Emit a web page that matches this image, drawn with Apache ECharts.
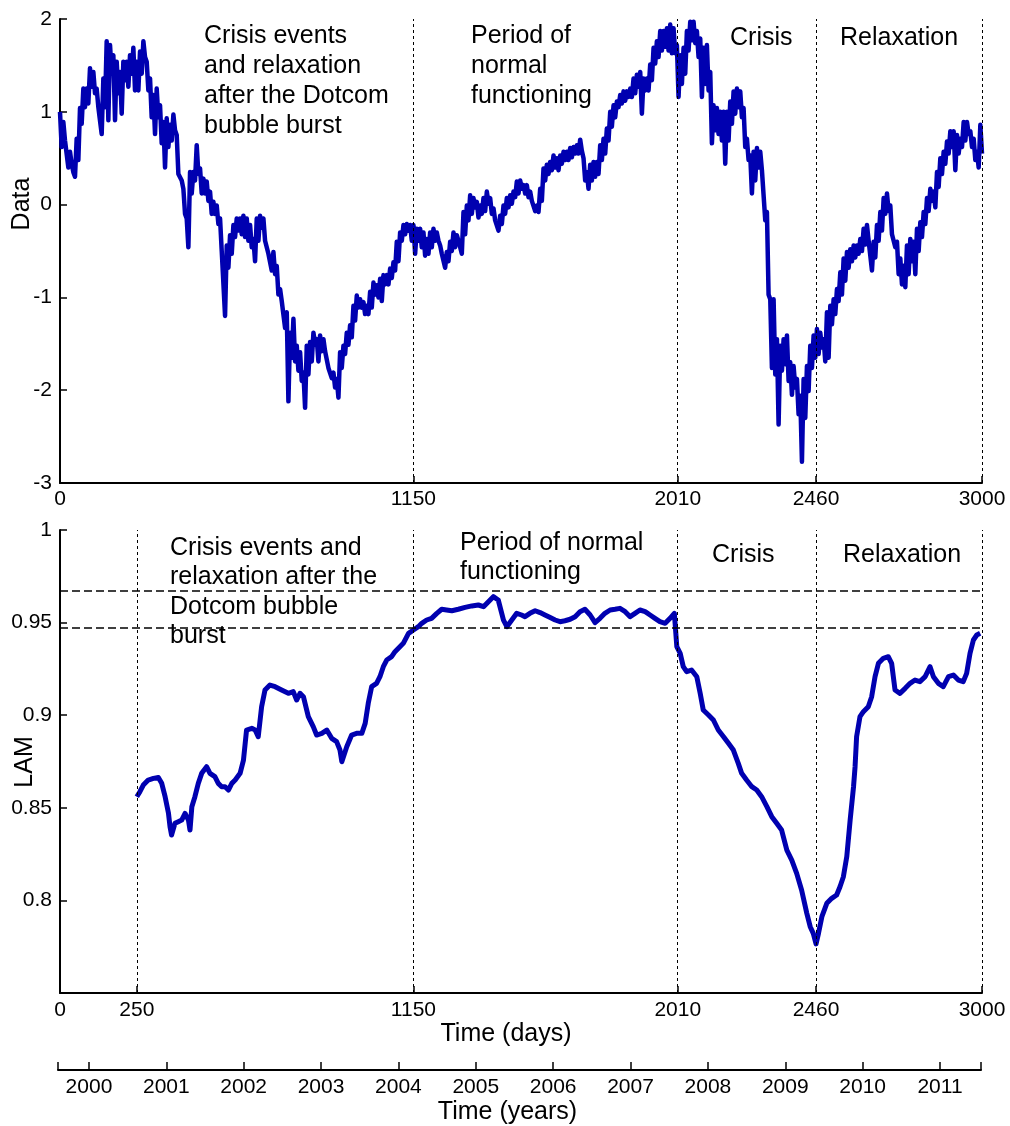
<!DOCTYPE html>
<html>
<head>
<meta charset="utf-8">
<script src="https://cdn.jsdelivr.net/npm/echarts@6/dist/echarts.min.js"></script>
<style>
html,body{margin:0;padding:0;background:#fff;}
#chart{width:1010px;height:1126px;}
</style>
</head>
<body>
<div id="chart"></div>
<script>
// ---------------- DATA ----------------
// Top panel: normalised index ("Data"), sampled every TOP_STEP days; per sample the upper and lower excursion
const TOP_STEP = 10.85;
const topHigh = [
1.00,0.89,0.71,0.57,0.35,0.71,1.04,1.25,1.25,1.47,1.43,1.25,1.07,1.36,1.76,1.72,1.61,1.54,1.43,1.54,
1.54,1.61,1.69,1.54,1.65,1.76,1.54,1.36,1.18,1.25,1.07,0.89,0.93,0.86,0.97,0.75,0.35,0.17,-0.15,0.35,
0.35,0.64,0.39,0.28,0.25,0.14,0.03,-0.01,-0.15,-0.51,-0.44,-0.33,-0.22,-0.15,-0.15,-0.12,-0.15,-0.22,-0.37,-0.15,
-0.12,-0.15,-0.37,-0.51,-0.51,-0.66,-0.91,-1.02,-1.16,-1.38,-1.23,-1.52,-1.59,-1.81,-1.52,-1.48,-1.38,-1.45,-1.41,-1.45,
-1.59,-1.74,-1.81,-1.88,-1.59,-1.52,-1.38,-1.30,-1.09,-0.98,-1.02,-1.05,-1.09,-0.94,-0.84,
-0.87,-0.80,-0.76,-0.76,-0.69,-0.62,-0.40,-0.30,-0.22,-0.21,-0.22,-0.22,-0.26,-0.26,-0.30,-0.37,-0.30,-0.26,-0.30,-0.44,
-0.51,-0.51,-0.40,-0.30,-0.33,-0.40,-0.08,-0.01,0.10,0.07,0.03,-0.01,0.07,0.14,0.07,-0.04,-0.15,-0.12,-0.01,0.07,
0.10,0.14,0.25,0.26,0.21,0.21,0.14,0.03,-0.01,0.17,0.39,0.43,0.46,0.53,0.50,0.53,0.57,0.57,0.61,0.62,
0.64,0.70,0.50,0.35,0.43,0.46,0.46,0.64,0.71,0.82,1.00,1.07,1.11,1.18,1.22,1.22,1.25,1.36,1.40,1.43,
1.36,1.36,1.51,1.69,1.76,1.87,1.87,1.90,1.94,1.90,1.72,
1.61,1.69,1.87,1.97,1.97,1.87,1.79,1.69,1.72,1.43,1.07,1.04,1.00,1.00,1.00,1.11,1.22,1.25,1.22,1.04,
0.71,0.53,0.57,0.61,0.57,0.39,-0.08,-1.02,-1.02,-1.45,-1.52,-1.45,-1.41,-1.70,-1.74,-1.88,-2.06,-1.88,-1.74,-1.52,
-1.41,-1.34,-1.38,-1.45,-1.16,-1.09,-1.02,-0.91,-0.73,-0.58,-0.51,-0.48,-0.44,-0.44,-0.37,-0.26,-0.22,-0.40,-0.40,-0.22,
-0.08,0.07,0.12,-0.01,-0.30,-0.40,-0.58,-0.66,-0.44,-0.37,-0.40,-0.26,-0.19,-0.08,0.07,0.17,0.14,0.35,0.50,0.57,
0.68,0.79,0.79,0.75,0.71,0.89,0.89,0.79,0.71,0.57,0.86
];
const topLow = [
0.62,0.69,0.40,0.44,0.30,0.48,0.87,1.05,1.09,1.27,1.20,1.05,0.76,1.05,0.91,1.41,0.91,1.20,0.98,1.34,
1.27,1.41,1.23,1.23,1.41,1.59,1.23,0.94,0.76,0.94,0.66,0.40,0.62,0.69,0.80,0.33,0.26,-0.10,-0.46,0.12,
0.26,0.33,0.12,0.12,0.04,-0.10,-0.10,-0.21,-0.50,-1.20,-0.68,-0.53,-0.35,-0.28,-0.32,-0.35,-0.39,-0.46,-0.61,-0.39,
-0.25,-0.39,-0.53,-0.71,-0.75,-0.97,-1.04,-1.33,-2.12,-1.65,-1.69,-1.79,-1.90,-2.19,-1.83,-1.69,-1.51,-1.69,-1.58,-1.58,
-1.76,-1.87,-1.97,-2.08,-1.76,-1.61,-1.51,-1.43,-1.25,-1.11,-1.11,-1.18,-1.18,-1.11,-0.97,
-1.00,-1.04,-0.86,-0.86,-0.79,-0.71,-0.61,-0.39,-0.32,-0.28,-0.39,-0.53,-0.39,-0.46,-0.55,-0.53,-0.46,-0.39,-0.39,-0.53,
-0.68,-0.61,-0.50,-0.46,-0.39,-0.53,-0.32,-0.17,-0.10,-0.03,-0.14,-0.10,-0.07,0.01,-0.10,-0.17,-0.28,-0.21,-0.10,-0.03,
0.01,0.08,0.12,0.17,0.12,0.08,0.04,-0.07,-0.08,0.04,0.26,0.33,0.37,0.40,0.37,0.44,0.48,0.48,0.51,0.55,
0.55,0.58,0.26,0.17,0.26,0.30,0.33,0.48,0.55,0.69,0.84,0.94,1.05,1.09,1.12,1.16,1.16,1.20,1.27,0.98,
1.23,1.23,1.34,1.52,1.59,1.66,1.70,1.66,1.63,1.63,1.16,
1.30,1.41,1.66,1.77,1.74,1.59,1.16,1.30,1.23,0.66,0.80,0.76,0.69,0.44,0.69,0.87,0.98,1.05,0.94,0.62,
0.48,0.12,0.26,0.40,0.37,-0.17,-0.97,-1.76,-1.83,-2.37,-1.79,-1.72,-1.90,-2.05,-1.97,-2.26,-2.77,-2.30,-2.01,-1.76,
-1.65,-1.61,-1.54,-1.69,-1.65,-1.29,-1.18,-1.04,-0.97,-0.82,-0.68,-0.61,-0.57,-0.53,-0.50,-0.43,-0.39,-0.71,-0.57,-0.39,
-0.28,-0.10,-0.07,-0.32,-0.46,-0.75,-0.86,-0.89,-0.75,-0.61,-0.75,-0.50,-0.35,-0.21,-0.07,0.04,-0.03,0.19,0.33,0.44,
0.55,0.62,0.37,0.55,0.62,0.69,0.76,0.62,0.48,0.40,0.55
];

// Bottom panel: LAM (laminarity) by day
const lamDays = [
250,260,271,287,304,320,331,342,353,358,363,374,385,396,407,418,423,429,439,450,
461,477,488,504,515,526,537,548,559,570,586,597,607,624,635,645,656,667,683,700,
721,743,759,770,781,792,808,824,835,852,868,884,900,911,917,933,949,965,982,993,
1003,1014,1030,1041,1052,1063,1079,1090,1106,1117,1134,1150,1166,1177,1193,1209,1226,1242,1258,1275,
1296,1318,1340,1361,1378,1394,1410,1426,1443,1454,1470,1486,1502,1513,
1529,1546,1562,1578,1595,1611,1627,1643,1660,1676,1692,1708,1725,1741,1757,1773,1790,1806,1822,1839,
1855,1871,1887,1904,1920,1936,1952,1969,1985,1999,2007,2018,2028,2039,2055,2072,2083,2093,2110,2126,
2142,2159,2175,2191,2207,2218,2234,2251,2267,2283,2300,2316,2332,2348,2365,2381,2397,2413,2430,2441,
2451,2460,2468,2479,2495,2511,2527,2538,2549,2560,2571,2582,2587,2592,2603,2614,2630,2641,2652,2663,
2679,2695,2706,2717,2733,2750,2766,2782,2798,2815,2831,2842,2858,2874,2891,2907,2923,2939,2950,2961,
2972,2983,2994
];
const lamValues = [
0.856,0.8587,0.8623,0.865,0.8659,0.8664,0.8632,0.856,0.847,0.8398,0.8353,0.8416,0.8425,0.8434,0.847,0.8434,0.838,0.8506,0.856,0.8632,
0.8686,0.8722,0.8686,0.8668,0.8632,0.8614,0.8614,0.8596,0.8632,0.865,0.8686,0.8758,0.892,0.8929,0.892,0.8884,0.9046,0.9136,0.9163,0.9154,
0.9136,0.9118,0.9127,0.9082,0.9118,0.91,0.8992,0.8938,0.8893,0.8902,0.892,0.8875,0.8857,0.8812,0.8749,0.883,0.8893,0.8902,0.8902,0.8956,
0.9064,0.9154,0.9172,0.9208,0.9262,0.9298,0.9316,0.9343,0.937,0.9388,0.9442,0.946,0.9478,0.9496,0.9514,0.9523,0.955,0.9572,0.9568,0.9564,
0.9572,0.9582,0.959,0.9595,0.9586,0.9613,0.964,0.9622,0.9514,0.9478,0.9514,0.955,0.9541,0.9532,
0.955,0.9564,0.9554,0.9541,0.9527,0.9514,0.9505,0.951,0.9518,0.9532,0.9559,0.9572,0.9541,0.95,0.9523,0.955,0.9568,0.9572,0.9577,0.9559,
0.9532,0.955,0.9568,0.9559,0.9541,0.9523,0.9505,0.9496,0.9523,0.955,0.937,0.9334,0.9262,0.9235,0.9244,0.9208,0.9118,0.9028,0.9001,0.8974,
0.892,0.8884,0.8848,0.8812,0.874,0.8686,0.865,0.8614,0.8596,0.856,0.8506,0.8452,0.8416,0.838,0.8272,0.8218,0.8146,0.8056,0.793,0.7858,
0.7822,0.7765,0.7822,0.7912,0.7984,0.8011,0.8029,0.8074,0.8128,0.8236,0.8434,0.8614,0.8722,0.8884,0.8992,0.9019,0.9046,0.91,0.9208,0.928,
0.9307,0.9316,0.928,0.9136,0.9118,0.9145,0.9172,0.919,0.9181,0.9208,0.9262,0.9208,0.9172,0.9154,0.9208,0.9217,0.919,0.9181,0.9226,0.9334,
0.9406,0.9433,0.9442
];

// Tick labels and reference marks
const topDayTicks = [0, 1150, 2010, 2460, 3000];
const bottomDayTicks = [0, 250, 1150, 2010, 2460, 3000];
const topPhaseBounds = [1150, 2010, 2460, 3000];
const bottomPhaseBounds = [250, 1150, 2010, 2460, 3000];
const lamLevels = [0.967, 0.947];
const yearTicks = [2000, 2001, 2002, 2003, 2004, 2005, 2006, 2007, 2008, 2009, 2010, 2011];
const yearRange = [1999.6, 2011.53];

// ---------------- BUILD ----------------
const topSeriesData = [];
for (let i = 0; i < topHigh.length; i++) {
  const d = i * TOP_STEP;
  topSeriesData.push([d, topHigh[i]]);
  topSeriesData.push([d + TOP_STEP / 2, topLow[i]]);
}
const lamData = lamDays.map((d, i) => [d, lamValues[i]]);

const FONT = 'Liberation Sans, Arial, sans-serif';
const BLUE = '#0000b0';
const axisLine = { show: true, onZero: false, lineStyle: { color: '#000', width: 2 } };
const tickLabel = { color: '#000', fontSize: 21, fontFamily: FONT };
const dotted = { color: '#000', width: 1, type: [3, 3] };
const plain = v => String(Math.round(v));

const chart = echarts.init(document.getElementById('chart'), null, { renderer: 'canvas' });

const option = {
  animation: false,
  backgroundColor: '#fff',
  grid: [
    { left: 60, right: 28, top: 19, height: 464 },
    { left: 60, right: 28, top: 530, height: 463 },
    { left: 58, right: 29, top: 1000, height: 70 }
  ],
  xAxis: [
    {
      gridIndex: 0, type: 'value', min: 0, max: 3000,
      axisLine: axisLine,
      axisTick: { show: true, inside: true, length: 7, customValues: topPhaseBounds, lineStyle: { color: '#000', width: 1.5 } },
      axisLabel: Object.assign({ margin: 6, customValues: topDayTicks, formatter: plain }, tickLabel),
      splitLine: { show: false }
    },
    {
      gridIndex: 1, type: 'value', min: 0, max: 3000,
      axisLine: axisLine,
      axisTick: { show: true, inside: true, length: 7, customValues: bottomPhaseBounds, lineStyle: { color: '#000', width: 1.5 } },
      axisLabel: Object.assign({ margin: 7, customValues: bottomDayTicks, formatter: plain }, tickLabel),
      splitLine: { show: false },
      name: 'Time (days)', nameLocation: 'middle', nameGap: 29,
      nameTextStyle: { color: '#000', fontSize: 25, fontFamily: FONT, padding: [0, 30, 0, 0] }
    },
    {
      gridIndex: 2, type: 'value', min: yearRange[0], max: yearRange[1],
      axisLine: axisLine,
      axisTick: { show: true, inside: true, length: 8, customValues: [yearRange[0]].concat(yearTicks, [yearRange[1]]), lineStyle: { color: '#000', width: 1.5 } },
      axisLabel: Object.assign({ margin: 7, customValues: yearTicks, formatter: plain }, tickLabel),
      splitLine: { show: false },
      name: 'Time (years)', nameLocation: 'middle', nameGap: 30,
      nameTextStyle: { color: '#000', fontSize: 25, fontFamily: FONT, padding: [0, 24, 0, 0] }
    }
  ],
  yAxis: [
    {
      gridIndex: 0, type: 'value', min: -3, max: 2, interval: 1,
      axisLine: axisLine,
      axisTick: { show: true, inside: true, length: 7, lineStyle: { color: '#000', width: 1.5 } },
      axisLabel: Object.assign({ margin: 8 }, tickLabel),
      splitLine: { show: false }
    },
    {
      gridIndex: 1, type: 'value', min: 0.75, max: 1, interval: 0.05,
      axisLine: axisLine,
      axisTick: { show: true, inside: true, length: 7, lineStyle: { color: '#000', width: 1.5 } },
      axisLabel: Object.assign({ margin: 8, showMinLabel: false, formatter: v => (Math.abs(v - 0.75) < 1e-9 ? '' : String(+v.toFixed(2))) }, tickLabel),
      splitLine: { show: false }
    },
    {
      gridIndex: 2, type: 'value', min: 0, max: 1, show: false
    }
  ],
  series: [
    {
      type: 'line', xAxisIndex: 0, yAxisIndex: 0,
      data: topSeriesData, showSymbol: false, symbol: 'none',
      lineStyle: { color: BLUE, width: 4.5, join: 'round' },
      markLine: {
        silent: true, symbol: 'none', label: { show: false }, precision: 6,
        lineStyle: dotted,
        data: topPhaseBounds.map(v => ({ xAxis: v }))
      },
      z: 3
    },
    {
      type: 'line', xAxisIndex: 1, yAxisIndex: 1,
      data: lamData, showSymbol: false, symbol: 'none',
      lineStyle: { color: BLUE, width: 5, join: 'round' },
      markLine: {
        silent: true, symbol: 'none', label: { show: false }, precision: 6,
        lineStyle: dotted,
        data: bottomPhaseBounds.map(v => ({ xAxis: v })).concat(
          lamLevels.map(v => ({ yAxis: v, lineStyle: { color: '#000', width: 1.6, type: [8, 4] } }))
        )
      },
      z: 3
    }
  ],
  graphic: [
    { type: 'text', left: 204, top: 21, style: { text: 'Crisis events\nand relaxation\nafter the Dotcom\nbubble burst', fontSize: 25, fontFamily: FONT, fill: '#000', lineHeight: 30 } },
    { type: 'text', left: 471, top: 21, style: { text: 'Period of\nnormal\nfunctioning', fontSize: 25, fontFamily: FONT, fill: '#000', lineHeight: 30 } },
    { type: 'text', left: 730, top: 23, style: { text: 'Crisis', fontSize: 25, fontFamily: FONT, fill: '#000', lineHeight: 30 } },
    { type: 'text', left: 840, top: 23, style: { text: 'Relaxation', fontSize: 25, fontFamily: FONT, fill: '#000', lineHeight: 30 } },
    { type: 'text', left: 170, top: 533, style: { text: 'Crisis events and\nrelaxation after the\nDotcom bubble\nburst', fontSize: 25, fontFamily: FONT, fill: '#000', lineHeight: 29.5 } },
    { type: 'text', left: 460, top: 528, style: { text: 'Period of normal\nfunctioning', fontSize: 25, fontFamily: FONT, fill: '#000', lineHeight: 29.5 } },
    { type: 'text', left: 712, top: 540, style: { text: 'Crisis', fontSize: 25, fontFamily: FONT, fill: '#000', lineHeight: 30 } },
    { type: 'text', left: 843, top: 540, style: { text: 'Relaxation', fontSize: 25, fontFamily: FONT, fill: '#000', lineHeight: 30 } },
    { type: 'text', x: 22, y: 204, rotation: Math.PI / 2, style: { text: 'Data', fontSize: 25, fontFamily: FONT, fill: '#000', align: 'center', verticalAlign: 'middle' } },
    { type: 'text', x: 25, y: 762, rotation: Math.PI / 2, style: { text: 'LAM', fontSize: 25, fontFamily: FONT, fill: '#000', align: 'center', verticalAlign: 'middle' } }
  ]
};
chart.setOption(option);
</script>
</body>
</html>
